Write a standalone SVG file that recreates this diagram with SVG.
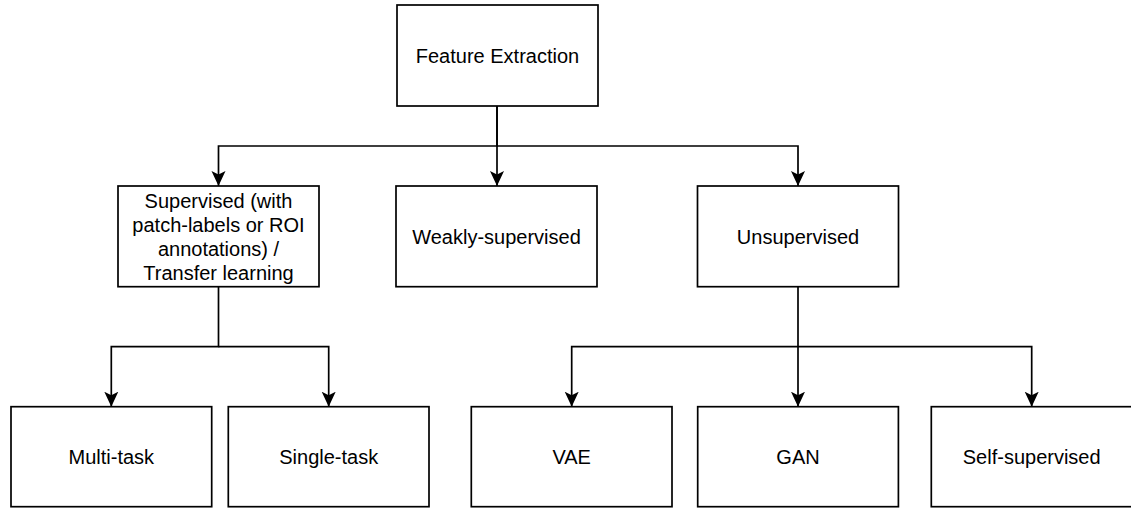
<svg xmlns="http://www.w3.org/2000/svg" width="1131" height="508" viewBox="0 0 1131 508">
  <style>
    .box { fill: #ffffff; stroke: #000000; stroke-width: 1.7; }
    .lbl { font-family: "Liberation Sans", Arial, sans-serif; font-size: 20px; fill: #000000; text-anchor: middle; }
    .edge { fill: none; stroke: #000000; stroke-width: 1.7; }
    .arrow { marker-end: url(#head); }
  </style>
  <defs>
    <marker id="head" markerUnits="userSpaceOnUse" markerWidth="16" markerHeight="16" viewBox="0 0 16 16" refX="15" refY="7.5" orient="auto">
      <path d="M0,0.5 L15,7.5 L0,14.5 L3.5,7.5 Z" fill="#000000"/>
    </marker>
  </defs>
  <rect width="1131" height="508" fill="#ffffff"/>

  <!-- connectors -->
  <g id="connectors">
    <path class="edge arrow" d="M497 106 V146 H218.5 V186"/>
    <path class="edge arrow" d="M497 106 V186"/>
    <path class="edge arrow" d="M497 146 H798 V186"/>
    <path class="edge arrow" d="M218.5 287 V346.7 H111.3 V406.7"/>
    <path class="edge arrow" d="M218.5 346.7 H328.7 V406.7"/>
    <path class="edge arrow" d="M798 287 V406.7"/>
    <path class="edge arrow" d="M798 346.7 H571.7 V406.7"/>
    <path class="edge arrow" d="M798 346.7 H1031.7 V406.7"/>
  </g>

  <!-- root -->
  <g id="feature-extraction">
    <rect class="box" x="397" y="5" width="201" height="101"/>
    <text class="lbl" x="497.5" y="62.5">Feature Extraction</text>
  </g>

  <!-- second level -->
  <g id="supervised">
    <rect class="box" x="118" y="186" width="201" height="100.7"/>
    <text class="lbl" x="218.5" y="207.5">Supervised (with</text>
    <text class="lbl" x="218.5" y="231.5">patch-labels or ROI</text>
    <text class="lbl" x="218.5" y="255.5">annotations) /</text>
    <text class="lbl" x="218.5" y="279.5">Transfer learning</text>
  </g>
  <g id="weakly-supervised">
    <rect class="box" x="396" y="186" width="201" height="100.7"/>
    <text class="lbl" x="496.5" y="243.5">Weakly-supervised</text>
  </g>
  <g id="unsupervised">
    <rect class="box" x="697.5" y="186" width="201" height="100.7"/>
    <text class="lbl" x="798" y="243.5">Unsupervised</text>
  </g>

  <!-- third level -->
  <g id="multi-task">
    <rect class="box" x="11" y="406.7" width="200.7" height="100"/>
    <text class="lbl" x="111.3" y="463.7">Multi-task</text>
  </g>
  <g id="single-task">
    <rect class="box" x="228.3" y="406.7" width="200.7" height="100"/>
    <text class="lbl" x="328.7" y="463.7">Single-task</text>
  </g>
  <g id="vae">
    <rect class="box" x="471.3" y="406.7" width="200.7" height="100"/>
    <text class="lbl" x="571.7" y="463.7">VAE</text>
  </g>
  <g id="gan">
    <rect class="box" x="697.7" y="406.7" width="200.7" height="100"/>
    <text class="lbl" x="798" y="463.7">GAN</text>
  </g>
  <g id="self-supervised">
    <rect class="box" x="931.3" y="406.7" width="205" height="100"/>
    <text class="lbl" x="1031.7" y="463.7">Self-supervised</text>
  </g>
</svg>
